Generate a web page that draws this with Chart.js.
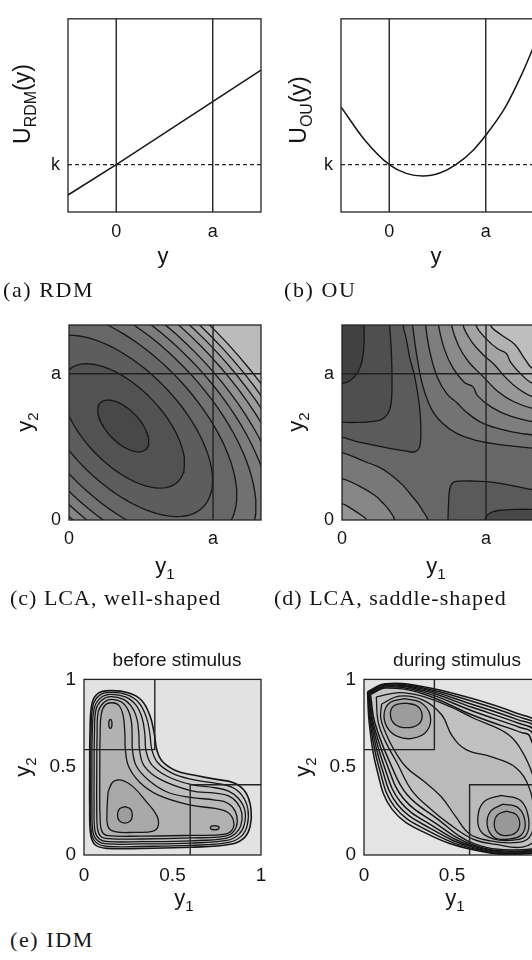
<!DOCTYPE html>
<html>
<head>
<meta charset="utf-8">
<script src="https://cdn.jsdelivr.net/npm/chart.js@4.4.1/dist/chart.umd.min.js"></script>
<style>
html, body { margin: 0; padding: 0; background: #fff; }
body { width: 532px; height: 960px; overflow: hidden; position: relative; font-family: "Liberation Sans", Arial, sans-serif; color: #151515; }
canvas { position: absolute; }
.lbl { position: absolute; white-space: nowrap; transform: translate(-50%, -50%); font-size: 22px; line-height: 1; }
.rot { transform: translate(-50%, -50%) rotate(-90deg); }
.sb { font-size: 15px; position: relative; top: 6px; }
.ttl { position: absolute; white-space: nowrap; transform: translate(-50%, -50%); font-size: 19px; }
.cap { position: absolute; white-space: nowrap; transform: translateY(-50%); font-family: "Liberation Serif", "Times New Roman", serif; font-size: 22px; letter-spacing: 1px; }
</style>
</head>
<body>
<canvas id="ca" width="280" height="250" style="left:0;top:0"></canvas>
<canvas id="cb" width="272" height="250" style="left:280px;top:0"></canvas>
<canvas id="cc" width="280" height="260" style="left:0;top:300px"></canvas>
<canvas id="cd" width="272" height="260" style="left:280px;top:300px"></canvas>
<canvas id="ce" width="280" height="230" style="left:0;top:660px"></canvas>
<canvas id="cf" width="280" height="230" style="left:280px;top:660px"></canvas>

<div class="lbl rot" style="left:22px;top:104px;font-size:23px">U<span class="sb" style="font-size:16px">RDM</span>(y)</div>
<div class="lbl" style="left:163px;top:256px">y</div>
<div class="cap" style="left:3px;top:290px;letter-spacing:1.6px">(a) RDM</div>

<div class="lbl rot" style="left:298px;top:110px;font-size:23px">U<span class="sb" style="font-size:16px">OU</span>(y)</div>
<div class="lbl" style="left:436px;top:256px">y</div>
<div class="cap" style="left:284px;top:290px;letter-spacing:1.6px">(b) OU</div>

<div class="lbl rot" style="left:25px;top:422px">y<span class="sb">2</span></div>
<div class="lbl" style="left:165px;top:566px">y<span class="sb">1</span></div>
<div class="cap" style="left:10px;top:598px">(c) LCA, well-shaped</div>

<div class="lbl rot" style="left:296px;top:422px">y<span class="sb">2</span></div>
<div class="lbl" style="left:436px;top:566px">y<span class="sb">1</span></div>
<div class="cap" style="left:274px;top:598px">(d) LCA, saddle-shaped</div>

<div class="ttl" style="left:177px;top:660px">before stimulus</div>
<div class="ttl" style="left:457px;top:660px">during stimulus</div>
<div class="lbl rot" style="left:23px;top:767px">y<span class="sb">2</span></div>
<div class="lbl" style="left:184px;top:898px">y<span class="sb">1</span></div>
<div class="lbl rot" style="left:303px;top:767px">y<span class="sb">2</span></div>
<div class="lbl" style="left:455px;top:898px">y<span class="sb">1</span></div>
<div class="cap" style="left:10px;top:940px;letter-spacing:1.6px">(e) IDM</div>

<script>
// ---- data ----
const aPos = 1;          // threshold a
const kLevel = 0.245;    // level k

// (a) RDM potential, straight line
const rdmX = [-0.5, 0, 1, 1.5];
const rdmU = [0.088, 0.245, 0.571, 0.734];

// (b) OU potential
const ouX = [-0.5, -0.25, 0, 0.175, 0.35, 0.53, 0.69, 0.87, 1.0, 1.2, 1.38, 1.5];
const ouU = [0.544, 0.37, 0.245, 0.2, 0.186, 0.203, 0.245, 0.32, 0.397, 0.54, 0.72, 0.86];

// tick labels
const abTicks = [0, 1];
const abTickText = ['0', 'a'];
const kTickText = ['k'];
const eTicks = [0, 0.5, 1];
const eTickText = ['0', '0.5', '1'];

// (c) well-shaped LCA: concentric tilted ellipses (size of each contour relative to the innermost)
const wellCenter = [0.377, 0.643];
const wellAxes = [0.224, 0.112];   // along (1,-1) and (1,1)
const wellScales = [1, 2.4, 3.5, 4.45, 5.2, 5.8, 6.33, 6.85, 7.3, 7.72, 8.14];
const wellShades = ['#484848', '#525252', '#5d5d5d', '#676767', '#727272', '#7c7c7c',
  '#868686', '#919191', '#9b9b9b', '#a6a6a6', '#b0b0b0', '#bbbbbb'];

// (d) saddle-shaped LCA contours (closed outside the box)
const saddleTL = [
  [[0.40,1.5],[0.424,1.333],[0.45,1.22],[0.47,1.11],[0.50,1.0],[0.523,0.88],[0.54,0.76],[0.547,0.64],[0.546,0.55],[0.535,0.49],[0.505,0.466],[0.44,0.472],[0.33,0.49],[0.2,0.516],[0.09,0.54],[0,0.566],[-0.15,0.6],[-0.15,1.5]],
  [[0.33,1.5],[0.331,1.333],[0.34,1.2],[0.346,1.05],[0.347,0.9],[0.34,0.79],[0.32,0.73],[0.28,0.69],[0.2,0.672],[0.1,0.667],[0,0.667],[-0.15,0.667],[-0.15,1.5]],
  [[0.155,1.5],[0.153,1.333],[0.153,1.2],[0.14,1.09],[0.11,1.01],[0.06,0.955],[0,0.932],[-0.15,0.92],[-0.15,1.5]]
];
const saddleBR = [
  [[0.735,-0.15],[0.736,0],[0.74,0.12],[0.748,0.21],[0.77,0.255],[0.82,0.266],[0.92,0.266],[1.0,0.262],[1.1,0.25],[1.2,0.232],[1.333,0.205],[1.5,0.18],[1.5,-0.15]],
  [[0.99,-0.15],[0.991,0],[1.01,0.035],[1.05,0.058],[1.12,0.068],[1.22,0.073],[1.333,0.073],[1.5,0.073],[1.5,-0.15]]
];
const saddleSW = [
  [[-0.15,0.48],[0,0.461],[0.157,0.40],[0.26,0.36],[0.343,0.306],[0.42,0.24],[0.481,0.169],[0.53,0.11],[0.562,0.06],[0.597,0],[0.62,-0.15],[-0.15,-0.15]],
  [[-0.15,0.30],[0,0.283],[0.111,0.237],[0.227,0.169],[0.28,0.12],[0.319,0.078],[0.366,0],[0.39,-0.15],[-0.15,-0.15]],
  [[-0.15,0.13],[0,0.112],[0.065,0.078],[0.134,0.032],[0.169,0],[0.19,-0.15],[-0.15,-0.15]]
];
const saddleNE = [
  [[0.47,1.5],[0.49,1.333],[0.52,1.12],[0.56,0.92],[0.62,0.76],[0.70,0.66],[0.80,0.59],[0.93,0.545],[1.1,0.515],[1.333,0.49],[1.5,0.475],[1.6,1.6]],
  [[0.56,1.5],[0.58,1.333],[0.61,1.15],[0.66,0.98],[0.73,0.86],[0.80,0.80],[0.86,0.74],[0.98,0.66],[1.15,0.61],[1.333,0.58],[1.5,0.56],[1.6,1.6]],
  [[0.65,1.5],[0.67,1.333],[0.71,1.17],[0.77,1.04],[0.85,0.94],[0.91,0.91],[0.94,0.85],[1.04,0.77],[1.17,0.71],[1.333,0.67],[1.5,0.65],[1.6,1.6]],
  [[0.74,1.5],[0.76,1.333],[0.81,1.19],[0.88,1.08],[0.98,0.98],[1.08,0.88],[1.19,0.81],[1.333,0.76],[1.5,0.74],[1.6,1.6]],
  [[0.82,1.5],[0.84,1.333],[0.90,1.22],[0.98,1.13],[1.06,1.06],[1.13,0.98],[1.22,0.90],[1.333,0.84],[1.5,0.82],[1.6,1.6]],
  [[0.91,1.5],[0.93,1.333],[1.0,1.24],[1.08,1.17],[1.14,1.14],[1.17,1.08],[1.24,1.0],[1.333,0.93],[1.5,0.91],[1.6,1.6]],
  [[1.01,1.5],[1.03,1.333],[1.1,1.27],[1.2,1.2],[1.27,1.1],[1.333,1.03],[1.5,1.01],[1.6,1.6]]
];

// (e) IDM, before stimulus: nested L-shaped contours and wells
const idmBefore = [
  [[0.032,0.473],[0.034,0.701],[0.045,0.862],[0.079,0.920],[0.146,0.936],[0.250,0.924],[0.325,0.881],[0.372,0.795],[0.397,0.691],[0.412,0.597],[0.442,0.534],[0.514,0.483],[0.603,0.458],[0.741,0.432],[0.845,0.411],[0.911,0.360],[0.943,0.265],[0.938,0.161],[0.902,0.095],[0.826,0.061],[0.603,0.044],[0.325,0.038],[0.127,0.038],[0.064,0.057],[0.038,0.114],[0.032,0.284],[0.032,0.473]],
  [[0.038,0.473],[0.040,0.701],[0.051,0.852],[0.087,0.909],[0.147,0.926],[0.242,0.913],[0.310,0.867],[0.352,0.786],[0.372,0.691],[0.384,0.597],[0.416,0.527],[0.495,0.468],[0.603,0.432],[0.741,0.409],[0.832,0.388],[0.892,0.341],[0.926,0.261],[0.922,0.167],[0.888,0.106],[0.817,0.072],[0.603,0.055],[0.325,0.049],[0.130,0.049],[0.072,0.068],[0.043,0.121],[0.038,0.284],[0.038,0.473]],
  [[0.045,0.473],[0.047,0.701],[0.059,0.841],[0.095,0.896],[0.149,0.915],[0.234,0.900],[0.295,0.852],[0.329,0.777],[0.344,0.686],[0.350,0.597],[0.382,0.515],[0.473,0.447],[0.603,0.402],[0.741,0.383],[0.817,0.364],[0.873,0.322],[0.909,0.254],[0.905,0.170],[0.873,0.116],[0.807,0.083],[0.603,0.068],[0.325,0.063],[0.132,0.063],[0.079,0.080],[0.051,0.129],[0.045,0.284],[0.045,0.473]],
  [[0.057,0.473],[0.059,0.691],[0.068,0.830],[0.102,0.883],[0.151,0.902],[0.223,0.886],[0.274,0.837],[0.301,0.767],[0.310,0.682],[0.314,0.597],[0.340,0.508],[0.429,0.432],[0.603,0.367],[0.741,0.352],[0.817,0.337],[0.864,0.299],[0.892,0.239],[0.886,0.167],[0.856,0.123],[0.802,0.095],[0.603,0.081],[0.325,0.076],[0.134,0.076],[0.087,0.091],[0.062,0.136],[0.057,0.284],[0.057,0.473]],
  [[0.072,0.473],[0.074,0.688],[0.081,0.818],[0.112,0.869],[0.155,0.886],[0.212,0.871],[0.251,0.822],[0.268,0.758],[0.272,0.678],[0.274,0.597],[0.297,0.504],[0.372,0.420],[0.476,0.356],[0.603,0.328],[0.741,0.313],[0.813,0.295],[0.854,0.250],[0.866,0.189],[0.847,0.136],[0.798,0.108],[0.603,0.097],[0.325,0.091],[0.136,0.093],[0.095,0.106],[0.076,0.152],[0.072,0.284],[0.072,0.473]],
  [[0.089,0.473],[0.091,0.682],[0.098,0.805],[0.121,0.856],[0.159,0.867],[0.197,0.852],[0.221,0.795],[0.231,0.691],[0.234,0.597],[0.253,0.502],[0.316,0.413],[0.420,0.341],[0.603,0.284],[0.741,0.265],[0.813,0.242],[0.845,0.193],[0.836,0.142],[0.788,0.117],[0.603,0.112],[0.325,0.108],[0.136,0.110],[0.102,0.133],[0.091,0.208],[0.089,0.473]],
  [[0.136,0.36],[0.164,0.417],[0.212,0.426],[0.278,0.388],[0.353,0.303],[0.41,0.227],[0.42,0.17],[0.391,0.136],[0.287,0.129],[0.174,0.133],[0.136,0.161],[0.13,0.246],[0.136,0.36]],
  [[0.231,0.275],[0.262,0.262],[0.273,0.228],[0.262,0.194],[0.231,0.181],[0.2,0.194],[0.189,0.228],[0.2,0.262],[0.231,0.275]],
  [[0.149,0.773],[0.156,0.765],[0.158,0.747],[0.156,0.729],[0.149,0.721],[0.142,0.729],[0.14,0.747],[0.142,0.765],[0.149,0.773]],
  [[0.712,0.155],[0.72,0.164],[0.738,0.167],[0.756,0.164],[0.764,0.155],[0.756,0.146],[0.738,0.143],[0.72,0.146],[0.712,0.155]]
];
const idmBeforeShades = ['#d3d3d3', '#cccccc', '#c5c5c5', '#bfbfbf', '#b8b8b8', '#b2b2b2', '#a8a8a8', '#9d9d9d', '#a2a2a2', '#a2a2a2'];

// (e) IDM, during stimulus: rounded rhombus and two wells
const idmDuring = [
  [[0.02,0.93],[0.12,0.975],[0.33,0.96],[0.60,0.895],[0.86,0.81],[1.0,0.74],[1.06,0.45],[1.03,0.06],[0.90,0.005],[0.62,0.03],[0.36,0.12],[0.16,0.26],[0.07,0.50],[0.03,0.75],[0.02,0.93]],
  [[0.023,0.927],[0.120,0.971],[0.331,0.953],[0.605,0.878],[0.866,0.791],[0.990,0.730],[1.050,0.45],[1.027,0.063],[0.90,0.009],[0.621,0.036],[0.368,0.136],[0.174,0.274],[0.084,0.503],[0.035,0.750],[0.023,0.927]],
  [[0.026,0.924],[0.121,0.967],[0.331,0.946],[0.609,0.860],[0.872,0.771],[0.980,0.720],[1.041,0.45],[1.024,0.066],[0.90,0.013],[0.622,0.042],[0.376,0.152],[0.189,0.289],[0.098,0.506],[0.041,0.751],[0.026,0.924]],
  [[0.029,0.921],[0.121,0.962],[0.332,0.938],[0.614,0.841],[0.879,0.750],[0.968,0.708],[1.030,0.45],[1.021,0.069],[0.90,0.018],[0.623,0.048],[0.385,0.169],[0.205,0.305],[0.113,0.510],[0.047,0.751],[0.029,0.921]],
  [[0.033,0.917],[0.122,0.957],[0.333,0.929],[0.620,0.819],[0.887,0.726],[0.956,0.696],[1.018,0.45],[1.017,0.073],[0.90,0.023],[0.624,0.056],[0.395,0.189],[0.223,0.323],[0.131,0.514],[0.053,0.751],[0.033,0.917]],
  [[0.037,0.913],[0.122,0.951],[0.334,0.918],[0.626,0.793],[0.896,0.697],[0.940,0.680],[1.004,0.45],[1.013,0.077],[0.90,0.030],[0.625,0.065],[0.407,0.213],[0.244,0.344],[0.151,0.518],[0.062,0.752],[0.037,0.913]],
  [[0.07,0.90],[0.20,0.925],[0.33,0.905],[0.50,0.84],[0.62,0.78],[0.80,0.70],[0.88,0.62],[0.96,0.45],[0.985,0.25],[0.98,0.10],[0.90,0.045],[0.75,0.06],[0.62,0.09],[0.48,0.18],[0.38,0.26],[0.27,0.37],[0.19,0.52],[0.12,0.65],[0.08,0.76],[0.07,0.90]],
  [[0.10,0.86],[0.20,0.905],[0.33,0.885],[0.44,0.80],[0.50,0.68],[0.58,0.60],[0.72,0.56],[0.86,0.50],[0.94,0.38],[0.965,0.22],[0.94,0.10],[0.85,0.07],[0.72,0.08],[0.60,0.12],[0.52,0.22],[0.44,0.33],[0.34,0.42],[0.24,0.50],[0.17,0.60],[0.125,0.69],[0.095,0.78],[0.10,0.86]],
  [[0.23,0.89],[0.32,0.87],[0.375,0.80],[0.36,0.71],[0.28,0.665],[0.19,0.675],[0.13,0.73],[0.115,0.81],[0.15,0.87],[0.23,0.89]],
  [[0.235,0.865],[0.30,0.85],[0.33,0.80],[0.31,0.745],[0.24,0.725],[0.175,0.745],[0.15,0.80],[0.17,0.85],[0.235,0.865]],
  [[0.78,0.34],[0.89,0.31],[0.935,0.21],[0.92,0.11],[0.85,0.085],[0.74,0.09],[0.66,0.14],[0.65,0.24],[0.69,0.31],[0.78,0.34]],
  [[0.79,0.29],[0.875,0.27],[0.915,0.19],[0.895,0.115],[0.82,0.09],[0.74,0.10],[0.70,0.17],[0.72,0.25],[0.79,0.29]],
  [[0.81,0.25],[0.865,0.23],[0.885,0.175],[0.86,0.125],[0.80,0.11],[0.755,0.13],[0.74,0.18],[0.76,0.23],[0.81,0.25]]
];
const idmDuringShades = ['#dadada', '#d6d6d6', '#d2d2d2', '#cecece', '#cacaca', '#c6c6c6', '#c1c1c1', '#bababa',
  '#aaaaaa', '#9c9c9c', '#b0b0b0', '#a4a4a4', '#989898'];

// decision boxes in (e)
const boxTL = [[0.4, 1], [0.4, 0.6], [0, 0.6]];
const boxBR = [[0.6, 0], [0.6, 0.4], [1, 0.4]];

// ---- drawing ----
Chart.defaults.animation = false;
Chart.defaults.font.family = '"Liberation Sans", Arial, sans-serif';
Chart.defaults.color = '#151515';
Chart.defaults.elements.line.capBezierPoints = false;

const framePlugin = {
  id: 'frame',
  beforeDatasetsDraw(chart, args, opts) {
    const c = chart.chartArea;
    if (opts.bg) {
      chart.ctx.save();
      chart.ctx.fillStyle = opts.bg;
      chart.ctx.fillRect(c.left, c.top, c.right - c.left, c.bottom - c.top);
      chart.ctx.restore();
    }
  },
  afterDatasetsDraw(chart) {
    const c = chart.chartArea, ctx = chart.ctx;
    ctx.save();
    ctx.strokeStyle = '#222';
    ctx.lineWidth = 1.3;
    ctx.strokeRect(c.left, c.top, c.right - c.left, c.bottom - c.top);
    ctx.restore();
  }
};

const pts = arr => arr.map(([x, y]) => ({x, y}));
const zip = (xs, ys) => xs.map((x, i) => [x, ys[i]]);

function path(arr, fillColor, extra) {
  return Object.assign({
    data: pts(arr),
    borderColor: '#161616',
    borderWidth: 1.3,
    backgroundColor: fillColor || 'rgba(0,0,0,0)',
    fill: fillColor ? 'shape' : false,
    tension: 0.4,
    pointRadius: 0,
    clip: 0
  }, extra || {});
}
function refLine(arr, dash) {
  return path(arr, null, {tension: 0, borderColor: '#222', borderWidth: 1.4, borderDash: dash || []});
}

function ellipseRing(c, ax, s, n) {
  const out = [], r = Math.SQRT1_2;
  for (let i = 0; i <= n; i++) {
    const t = 2 * Math.PI * i / n;
    const u = s * ax[0] * Math.cos(t), v = s * ax[1] * Math.sin(t);
    out.push([c[0] + r * (u + v), c[1] + r * (v - u)]);
  }
  return out;
}

function axis(range, vals, text, size, pad, fit) {
  return {
    type: 'linear', min: range[0], max: range[1],
    grid: {display: false, drawTicks: false},
    border: {display: false},
    afterBuildTicks: s => { s.ticks = vals.map(v => ({value: v})); },
    afterFit: fit,
    ticks: {font: {size}, padding: pad, autoSkip: false, maxRotation: 0, color: '#151515',
      callback: (v, i) => text[i]}
  };
}

function panel(id, p) {
  const ds = p.datasets;
  ds.forEach((d, i) => { d.order = ds.length - i; });
  return new Chart(document.getElementById(id), {
    type: 'line',
    data: {datasets: ds},
    options: {
      responsive: false, devicePixelRatio: 1, animation: false,
      layout: {padding: {top: p.padTop, right: p.padRight, left: 0, bottom: 0}},
      plugins: {legend: {display: false}, tooltip: {enabled: false}, frame: {bg: p.bg}},
      scales: {
        x: axis(p.xr, p.xt, p.xl, p.size, p.xPad, s => { s.height = p.xH; }),
        y: axis(p.yr, p.yt, p.yl, p.size, 8, s => { s.width = p.yW; })
      }
    },
    plugins: [framePlugin]
  });
}

// (a)
panel('ca', {
  padTop: 8, padRight: 19, xH: 38, yW: 68, size: 18, xPad: 9,
  xr: [-0.5, 1.5], yr: [0, 1], xt: abTicks, xl: abTickText, yt: [kLevel], yl: kTickText,
  datasets: [
    path(zip(rdmX, rdmU), null, {tension: 0, borderWidth: 1.5}),
    refLine([[0, 0], [0, 1]]),
    refLine([[aPos, 0], [aPos, 1]]),
    refLine([[-0.5, kLevel], [1.5, kLevel]], [4, 3])
  ]
});

// (b)
panel('cb', {
  padTop: 8, padRight: 18, xH: 38, yW: 61, size: 18, xPad: 9,
  xr: [-0.5, 1.5], yr: [0, 1], xt: abTicks, xl: abTickText, yt: [kLevel], yl: kTickText,
  datasets: [
    path(zip(ouX, ouU), null, {tension: 0, cubicInterpolationMode: 'monotone', borderWidth: 1.5}),
    refLine([[0, 0], [0, 1]]),
    refLine([[aPos, 0], [aPos, 1]]),
    refLine([[-0.5, kLevel], [1.5, kLevel]], [4, 3])
  ]
});

// (c)
const cSets = [];
for (let i = wellScales.length - 1; i >= 0; i--) {
  cSets.push(path(ellipseRing(wellCenter, wellAxes, wellScales[i], 96), wellShades[i], {tension: 0}));
}
cSets.push(refLine([[aPos, 0], [aPos, 1.4]]), refLine([[0, aPos], [1.4, aPos]]));
panel('cc', {
  padTop: 25, padRight: 19, xH: 40, yW: 69, size: 18, xPad: 8, bg: wellShades[wellScales.length],
  xr: [0, 1.333], yr: [0, 1.333], xt: abTicks, xl: abTickText, yt: abTicks, yl: abTickText,
  datasets: cSets
});

// (d)
const dSets = [];
['#5b5b5b', '#4f4f4f', '#414141'].forEach((c, i) => dSets.push(path(saddleTL[i], c)));
['#5a5a5a', '#484848'].forEach((c, i) => dSets.push(path(saddleBR[i], c)));
['#787878', '#868686', '#949494'].forEach((c, i) => dSets.push(path(saddleSW[i], c)));
['#737373', '#7e7e7e', '#8a8a8a', '#979797', '#a4a4a4', '#b1b1b1', '#bebebe'].forEach((c, i) => dSets.push(path(saddleNE[i], c)));
dSets.push(refLine([[aPos, 0], [aPos, 1.4]]), refLine([[0, aPos], [1.4, aPos]]));
panel('cd', {
  padTop: 25, padRight: 18, xH: 40, yW: 62, size: 18, xPad: 8, bg: '#676767',
  xr: [0, 1.333], yr: [0, 1.333], xt: abTicks, xl: abTickText, yt: abTicks, yl: abTickText,
  datasets: dSets
});

// (e) before stimulus
const eSets = idmBefore.map((c, i) => path(c, idmBeforeShades[i], {borderWidth: i === 0 ? 1.6 : 1.3}));
eSets.push(refLine(boxTL), refLine(boxBR));
panel('ce', {
  padTop: 19, padRight: 19, xH: 35, yW: 84, size: 19, xPad: 9, bg: '#e2e2e2',
  xr: [0, 1], yr: [0, 1], xt: eTicks, xl: eTickText, yt: eTicks, yl: eTickText,
  datasets: eSets
});

// (e) during stimulus
const fSets = idmDuring.map((c, i) => path(c, idmDuringShades[i], {borderWidth: i < 6 ? 1.5 : 1.3}));
fSets.push(refLine(boxTL), refLine(boxBR));
panel('cf', {
  padTop: 19, padRight: 20, xH: 35, yW: 84, size: 19, xPad: 9, bg: '#e4e4e4',
  xr: [0, 1], yr: [0, 1], xt: eTicks, xl: eTickText, yt: eTicks, yl: eTickText,
  datasets: fSets
});
</script>
</body>
</html>
